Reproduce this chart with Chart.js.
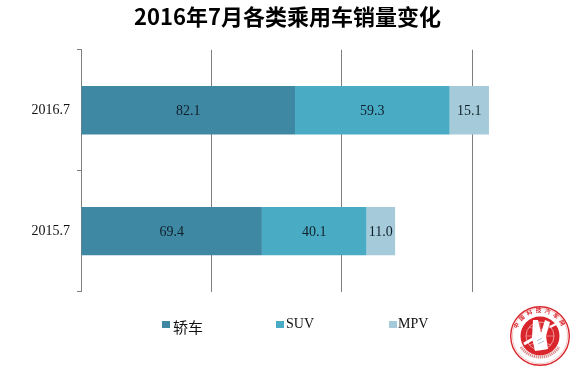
<!DOCTYPE html>
<html><head><meta charset="utf-8">
<style>
html,body{margin:0;padding:0;background:#fff;width:575px;height:371px;overflow:hidden}
#wrap{position:relative;width:575px;height:371px}
#logo{position:absolute;left:509px;top:305px;width:62px;height:62px}
</style>
<script src="https://cdn.jsdelivr.net/npm/chart.js@4"></script>
</head><body>
<div id="wrap"><canvas id="c" width="575" height="371"></canvas>
<svg id="logo" viewBox="0 0 62 62">
<circle cx="31" cy="31" r="29.3" fill="#fff" stroke="#d9262c" stroke-width="1.4"/>
<circle cx="31" cy="31" r="27.6" fill="none" stroke="#e98a8d" stroke-width="0.5"/>
<circle cx="31" cy="31" r="19.5" fill="#d9262c"/>
<defs><path id="arcT" d="M8.2 38 A23.8 23.8 0 1 1 53.8 38"/></defs>
<text font-family="Noto Sans CJK SC" font-size="5.6" font-weight="700" fill="#d9262c" letter-spacing="3"><textPath href="#arcT" startOffset="50%" text-anchor="middle">中国科技汽车网</textPath></text>
<path d="M12 42 A23 23 0 0 0 50 42" fill="none" stroke="#d98a8c" stroke-width="3" stroke-dasharray="1.3 0.7"/>
<circle cx="31" cy="31" r="14" fill="none" stroke="#f3b7b8" stroke-width="0.8"/>
<path d="M17 31 H45 M31 17 V45 M20 22 Q31 27 42 22 M20 40 Q31 35 42 40" fill="none" stroke="#f3b7b8" stroke-width="0.6"/>
<path d="M24 15 L29 15 L32 28 L36 15 L41 17 L37 31 L39 44 L26 46 L23 33 Z" fill="#fff"/>
<path d="M15 39 L27 32" stroke="#fff" stroke-width="3" fill="none"/>
<path d="M41 22 L49 18" stroke="#fff" stroke-width="2.4" fill="none"/>
<path d="M28 36 L33 33 M29 39 L35 36" stroke="#7aa7c9" stroke-width="0.7" fill="none"/>
</svg></div>
<script>
const categories = ['2016.7', '2015.7'];
const sedan = [82.1, 69.4];
const suv = [59.3, 40.1];
const mpv = [15.1, 11.0];
const seriesNames = ['轿车', 'SUV', 'MPV'];
const titleText = '2016年7月各类乘用车销量变化';

const serif = '"Liberation Serif","Noto Sans CJK SC",serif';
const barLabels = {
  id: 'barLabels',
  afterDatasetsDraw(chart) {
    const ctx = chart.ctx;
    ctx.save();
    ctx.font = '14px ' + serif;
    ctx.fillStyle = '#10202a';
    ctx.textAlign = 'center';
    ctx.textBaseline = 'middle';
    chart.data.datasets.forEach((ds, i) => {
      chart.getDatasetMeta(i).data.forEach((bar, j) => {
        const p = bar.getProps(['x', 'y', 'base'], true);
        ctx.fillText(ds.data[j].toFixed(1), (p.x + p.base) / 2, p.y + 1);
      });
    });
    ctx.restore();
  }
};
// The reference's legend items are unevenly spaced, so they are placed one by one.
const legendLayout = [
  { box: 162, text: 173, textY: 327, size: 15, font: '"Noto Sans CJK SC"' },
  { box: 276, text: 286, textY: 324, size: 14, font: serif },
  { box: 389, text: 398, textY: 324, size: 14, font: serif }
];
const spacedLegend = {
  id: 'spacedLegend',
  afterDraw(chart) {
    const ctx = chart.ctx;
    ctx.save();
    ctx.textBaseline = 'middle';
    ctx.textAlign = 'left';
    chart.data.datasets.forEach((ds, i) => {
      const l = legendLayout[i];
      ctx.fillStyle = ds.backgroundColor;
      ctx.fillRect(l.box, 321, 8, 7);
      ctx.fillStyle = '#111';
      ctx.font = l.size + 'px ' + l.font;
      ctx.fillText(ds.label, l.text, l.textY);
    });
    ctx.restore();
  }
};

new Chart(document.getElementById('c'), {
  type: 'bar',
  data: {
    labels: categories,
    datasets: [
      { label: seriesNames[0], data: sedan, backgroundColor: '#3e88a3' },
      { label: seriesNames[1], data: suv, backgroundColor: '#4aabc5' },
      { label: seriesNames[2], data: mpv, backgroundColor: '#a5cbdb' }
    ]
  },
  options: {
    indexAxis: 'y',
    responsive: false,
    animation: false,
    barPercentage: 0.4,
    categoryPercentage: 1,
    layout: { padding: { left: 0, right: 0, top: 0, bottom: 79.5 } },
    scales: {
      x: {
        stacked: true, min: 0, max: 189.5,
        ticks: { display: false, stepSize: 50, autoSkip: false, includeBounds: false },
        grid: { color: '#7f7f7f', lineWidth: 1, drawTicks: false },
        border: { display: false }
      },
      y: {
        stacked: true,
        afterFit(s) { s.width = 81; },
        ticks: { color: '#111', font: { family: serif, size: 14 }, padding: 7 },
        grid: { drawOnChartArea: false, color: '#7f7f7f', tickLength: 4 },
        border: { color: '#7f7f7f' }
      }
    },
    plugins: {
      tooltip: { enabled: false },
      legend: { display: false },
      title: {
        display: true, text: titleText, color: '#000',
        font: { family: '"Noto Sans CJK SC"', size: 22, weight: 'bold' },
        padding: { top: 3, bottom: 20.4 }
      }
    }
  },
  plugins: [barLabels, spacedLegend]
});
</script>
</body></html>
